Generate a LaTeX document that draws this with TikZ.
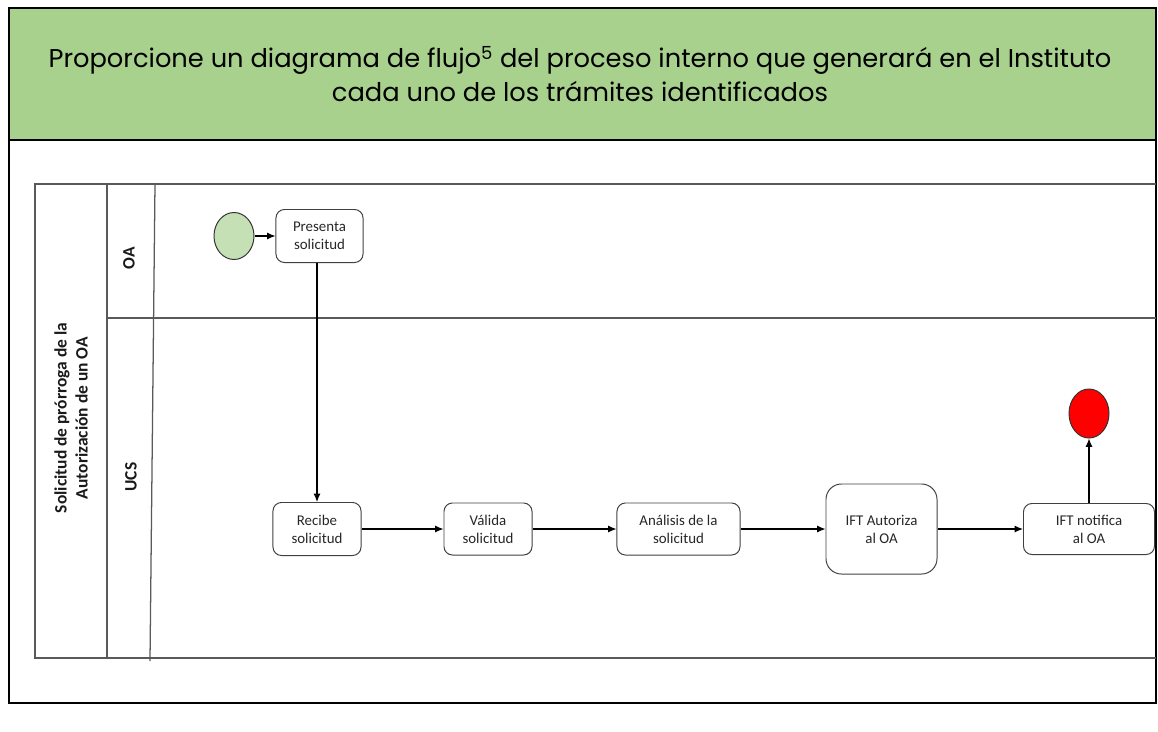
\documentclass[tikz,border=0pt]{standalone}
\usepackage{fontspec}
\setmainfont{Carlito}
\newfontfamily\titlefont{Poppins}
\usetikzlibrary{arrows.meta,shapes.geometric}
\definecolor{verdeT}{HTML}{A9D18E}
\definecolor{verdeI}{HTML}{C5E0B4}

\begin{document}
\begin{tikzpicture}[x=0.025cm,y=-0.025cm,
	caja/.style={draw=black!75,line width=0.7pt,rounded corners=6pt,align=center,inner sep=0pt,font=\fontsize{10.6}{12.8}\selectfont,text=black!85},
	evento/.style={ellipse,draw=black!80,line width=0.7pt,inner sep=0pt,minimum width=1cm},
	carril/.style={draw=black!65,line width=0.9pt},
	etiq/.style={rotate=90,align=center,font=\bfseries\fontsize{12.4}{14.9}\selectfont,text=black!90},
	flecha/.style={-{Latex[length=6pt,width=5pt]},line width=0.75pt}]
	\useasboundingbox (0,0) rectangle (1158,731);
	\fill[verdeT] (9,8) rectangle (1156,140);
	\draw[black,line width=1.5pt] (9,8) rectangle (1156,703);
\draw[black,line width=1.5pt] (9,140) -- (1156,140);
\node[align=center,font=\titlefont\fontsize{18.3}{24.1}\selectfont] (T) at (580,74) {Proporcione un diagrama de flujo\textsuperscript{5} del proceso interno que generará en el Instituto\\cada uno de los trámites identificados};

\draw[carril] (1156,184) -- (35,184) -- (35,658) -- (1156,658);
\draw[carril] (107,184) -- (107,658);
\draw[carril] (155,184) -- (150,661);
\draw[carril] (107,318) -- (1156,318);
\node[etiq] (Pool) at (71,418) {Solicitud de prórroga de la\\Autorización de un OA};
\node[etiq] (OA) at (129,258) {OA};
\node[etiq] (UCS) at (131,477) {UCS};

\node[evento,fill=verdeI,minimum height=1.175cm] (Ini) at (234,236) {};
\node[caja,minimum width=2.175cm,minimum height=1.325cm] (Pre) at (319.5,236) {Presenta\\solicitud};
\node[caja,minimum width=2.2cm,minimum height=1.325cm] (Rec) at (317,529) {Recibe\\solicitud};
\node[caja,minimum width=2.2cm,minimum height=1.3cm] (Val) at (488,529) {Válida\\solicitud};
\node[caja,minimum width=3.075cm,minimum height=1.3cm] (Ana) at (678.5,529) {Análisis de la\\solicitud};
\node[caja,rounded corners=11pt,minimum width=2.775cm,minimum height=2.25cm] (Aut) at (881.5,529) {IFT Autoriza\\al OA};
\node[caja,minimum width=3.275cm,minimum height=1.275cm] (Not) at (1089,529) {IFT notifica\\al OA};
\node[evento,fill=red,minimum height=1.225cm] (Fin) at (1089,413.5) {};

\draw[flecha] (Ini) -- (Pre);
\draw[flecha] (Rec.north |- Pre.south) -- (Rec.north);
\draw[flecha] (Rec) -- (Val);
\draw[flecha] (Val) -- (Ana);
\draw[flecha] (Ana) -- (Aut);
\draw[flecha] (Aut) -- (Not);
\draw[flecha] (Not) -- (Fin);

\end{tikzpicture}
\end{document}
